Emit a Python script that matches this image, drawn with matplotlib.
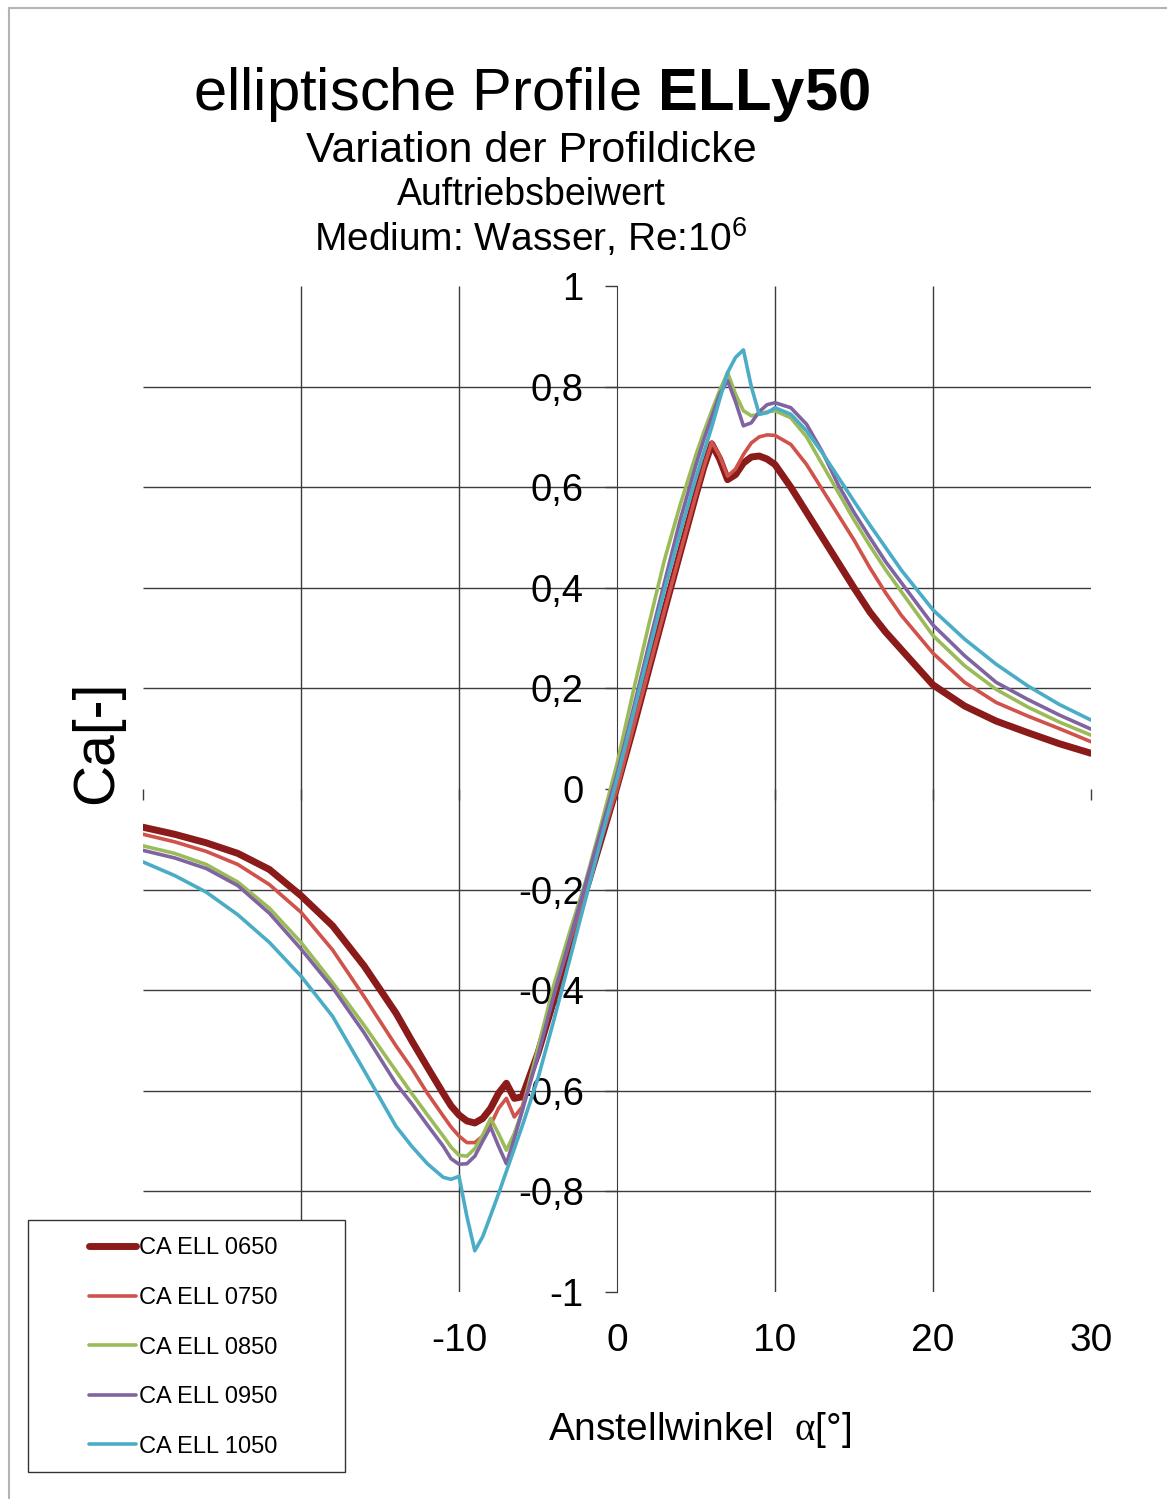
import numpy as np
import matplotlib as mpl
import matplotlib.pyplot as plt
from matplotlib.patches import Rectangle
from matplotlib.lines import Line2D

plt.rcParams['font.family'] = ['Liberation Sans', 'DejaVu Sans']
plt.rcParams['mathtext.fontset'] = 'custom'
plt.rcParams['mathtext.rm'] = 'Liberation Serif'
plt.rcParams['mathtext.bf'] = 'Liberation Sans:bold'
plt.rcParams['mathtext.sf'] = 'Liberation Sans'

# angle of attack [deg]
alpha = [-30, -28, -26, -24, -22, -20, -18, -16, -14, -13, -12, -11,
         -10.5, -10, -9.5, -9, -8.5, -8, -7.5, -7, -6.5, -6,
         -5, -4, -3, -2, -1, 0, 1, 2, 3, 4, 5,
         5.5, 6, 6.5, 7, 7.5, 8, 8.5, 9, 9.5, 10,
         11, 12, 13, 14, 15, 16, 17, 18, 20, 22, 24, 26, 28, 30]

ca_0650 = [-0.076, -0.090, -0.107, -0.128, -0.16, -0.212, -0.272, -0.352, -0.445, -0.50, -0.553, -0.605,
           -0.63, -0.648, -0.66, -0.664, -0.655, -0.635, -0.605, -0.585, -0.615, -0.612,
           -0.525, -0.42, -0.31, -0.205, -0.1, 0.005, 0.118, 0.236, 0.354, 0.47, 0.585,
           0.64, 0.686, 0.656, 0.615, 0.625, 0.648, 0.66, 0.662, 0.656, 0.645,
           0.60, 0.55, 0.50, 0.45, 0.40, 0.352, 0.312, 0.277, 0.207, 0.165, 0.135, 0.112, 0.09, 0.071]

ca_0750 = [-0.09, -0.105, -0.124, -0.15, -0.19, -0.245, -0.32, -0.413, -0.51, -0.555, -0.605, -0.65,
           -0.672, -0.69, -0.703, -0.703, -0.69, -0.668, -0.635, -0.615, -0.652, -0.632,
           -0.52, -0.41, -0.305, -0.205, -0.1, 0.0, 0.118, 0.236, 0.354, 0.47, 0.585,
           0.64, 0.69, 0.662, 0.622, 0.636, 0.665, 0.688, 0.70, 0.704, 0.703,
           0.685, 0.645, 0.595, 0.545, 0.495, 0.44, 0.39, 0.345, 0.27, 0.212, 0.172, 0.145, 0.12, 0.094]

ca_0850 = [-0.113, -0.128, -0.15, -0.185, -0.237, -0.305, -0.385, -0.47, -0.56, -0.605, -0.648, -0.69,
           -0.712, -0.728, -0.73, -0.715, -0.688, -0.655, -0.685, -0.718, -0.685, -0.64,
           -0.515, -0.39, -0.285, -0.185, -0.07, 0.05, 0.19, 0.325, 0.455, 0.565, 0.665,
           0.71, 0.752, 0.792, 0.828, 0.785, 0.752, 0.742, 0.745, 0.75, 0.752,
           0.738, 0.70, 0.645, 0.59, 0.535, 0.484, 0.436, 0.392, 0.305, 0.245, 0.198, 0.163, 0.133, 0.107]

ca_0950 = [-0.122, -0.137, -0.158, -0.192, -0.247, -0.318, -0.395, -0.485, -0.585, -0.625, -0.668, -0.71,
           -0.735, -0.746, -0.745, -0.73, -0.70, -0.672, -0.71, -0.745, -0.695, -0.64,
           -0.53, -0.41, -0.30, -0.19, -0.08, 0.03, 0.155, 0.285, 0.41, 0.535, 0.645,
           0.695, 0.74, 0.785, 0.812, 0.77, 0.722, 0.728, 0.75, 0.764, 0.768,
           0.758, 0.725, 0.67, 0.605, 0.55, 0.50, 0.452, 0.41, 0.326, 0.265, 0.212, 0.178, 0.147, 0.119]

ca_1050 = [-0.145, -0.172, -0.205, -0.25, -0.305, -0.372, -0.452, -0.56, -0.67, -0.71, -0.745, -0.772,
           -0.776, -0.77, -0.85, -0.918, -0.89, -0.848, -0.805, -0.76, -0.715, -0.67,
           -0.575, -0.46, -0.34, -0.22, -0.1, 0.02, 0.145, 0.27, 0.395, 0.51, 0.62,
           0.67, 0.72, 0.775, 0.828, 0.858, 0.873, 0.80, 0.745, 0.748, 0.758,
           0.745, 0.712, 0.668, 0.62, 0.572, 0.525, 0.48, 0.435, 0.356, 0.298, 0.248, 0.205, 0.168, 0.137]

series = [ca_0650, ca_0750, ca_0850, ca_0950, ca_1050]
names = ["CA ELL 0650", "CA ELL 0750", "CA ELL 0850", "CA ELL 0950", "CA ELL 1050"]
colors = ["#8b1a1a", "#d0524b", "#9bbb59", "#8064a2", "#4bacc6"]
widths = [5.0, 2.6, 2.6, 2.6, 2.6]

x_ticks = [-30, -20, -10, 0, 10, 20, 30]
x_labels = ["", "", "-10", "0", "10", "20", "30"]   # -30 and -20 sit under the legend
y_ticks = [-1, -0.8, -0.6, -0.4, -0.2, 0, 0.2, 0.4, 0.6, 0.8, 1]
y_labels = ["-1", "-0,8", "-0,6", "-0,4", "-0,2", "0", "0,2", "0,4", "0,6", "0,8", "1"]
x_grid = [-20, -10, 10, 20]
y_grid = [-0.8, -0.6, -0.4, -0.2, 0.2, 0.4, 0.6, 0.8]

W, H = 1167, 1499
fig = plt.figure(figsize=(W / 100, H / 100), dpi=100)
ax = fig.add_axes([143 / W, 1 - 1292 / H, 948 / W, 1006 / H])
ax.set_xlim(-30, 30)
ax.set_ylim(-1, 1)

gc = "#3c3c3c"
ax.hlines(y_grid, -30, 30, color=gc, lw=1.0, zorder=1)
ax.vlines(x_grid, -1, 1, color=gc, lw=1.0, zorder=1)

for ys, nm, c, w in zip(series, names, colors, widths):
    ax.plot(alpha, ys, color=c, lw=w, label=nm, solid_capstyle='round',
            solid_joinstyle='round', zorder=3)

# y axis through x = 0
for s in ['top', 'right', 'bottom']:
    ax.spines[s].set_visible(False)
ax.spines['left'].set_position(('data', 0))
ax.spines['left'].set_color(gc)
ax.set_yticks(y_ticks, y_labels)
ax.tick_params(axis='y', direction='out', length=9, width=1.0, color=gc,
               pad=15, labelsize=27.5)

# x labels at the bottom of the plot
ax.set_xticks(x_ticks, x_labels)
ax.tick_params(axis='x', length=0, pad=22, labelsize=28)

# x axis line through y = 0
sec = ax.secondary_xaxis(0.5)
sec.set_xticks(x_ticks, [''] * len(x_ticks))
sec.tick_params(axis='x', direction='in', length=8, width=1.0, color=gc)
sec.spines['bottom'].set_color(gc)
for s in ['top', 'left', 'right']:
    sec.spines[s].set_visible(False)

# titles
cx = 531 / W
fig.text(cx, 1 - 110 / H, r"elliptische Profile $\mathbf{ELLy50}$", ha='center',
         va='baseline', fontsize=43)
fig.text(cx, 1 - 162 / H, "Variation der Profildicke", ha='center', va='baseline', fontsize=31)
fig.text(cx, 1 - 205 / H, "Auftriebsbeiwert", ha='center', va='baseline', fontsize=27)
fig.text(cx, 1 - 251 / H, r"Medium: Wasser, Re:10$^{\mathsf{6}}$", ha='center',
         va='baseline', fontsize=28)

fig.text(97 / W, 1 - 742 / H, "Ca[-]", rotation=90, ha='center', va='center', fontsize=41)
fig.text(548 / W, 1 - 1440 / H, r"Anstellwinkel  $\mathrm{\alpha}$[°]", ha='left',
         va='baseline', fontsize=28)

# legend box
box = Rectangle((28 / W, 1 - 1472 / H), 317 / W, 252 / H, transform=fig.transFigure,
                facecolor='white', edgecolor='#333333', lw=1.0, zorder=4)
fig.add_artist(box)
handles, labels = ax.get_legend_handles_labels()
leg = fig.legend(handles, labels, loc='center', bbox_to_anchor=(183 / W, 1 - 1347.5 / H),
                 frameon=False, fontsize=17, handlelength=2.0, handletextpad=0.1,
                 labelspacing=1.17, borderpad=0.0)
leg.set_zorder(5)

# page border
fig.add_artist(Line2D([8.5 / W, 1], [1 - 7.5 / H, 1 - 7.5 / H], transform=fig.transFigure,
                      color='#b4b4b4', lw=1.5))
fig.add_artist(Line2D([8.5 / W, 8.5 / W], [0, 1 - 7.5 / H], transform=fig.transFigure,
                      color='#b4b4b4', lw=1.5))

fig.savefig("out.png", dpi=100)
